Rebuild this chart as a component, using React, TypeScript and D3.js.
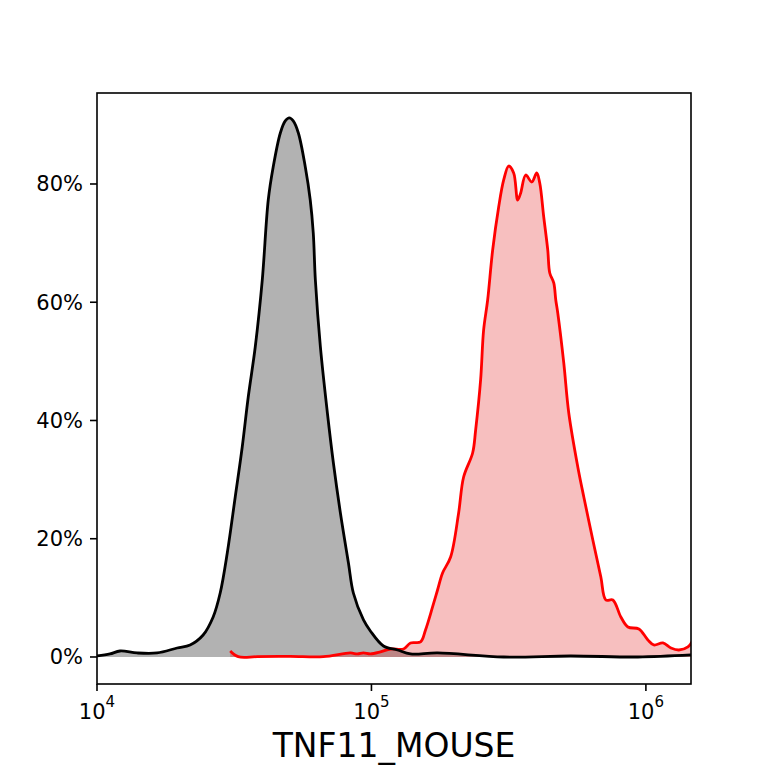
import * as d3 from 'd3';

// intensity values (x) and percent of max (y)
const controlX = [10000, 11150, 12130, 14000, 16560, 19590, 21840, 24360, 26500, 28110, 29830, 31890, 33820, 35570, 37720, 40010, 42070, 43850, 46560, 48530, 50200, 51880, 54160, 57410, 59840, 61380, 62470, 65160, 69100, 72670, 77070, 82450, 85920, 93540, 99100, 110600, 124400, 138800, 174100, 303400, 532300, 935000, 1459000];
const controlY = [0.17, 0.51, 1.01, 0.68, 0.68, 1.52, 2.03, 3.72, 6.77, 10.82, 17.59, 27.06, 35.52, 43.97, 52.43, 63.76, 77.29, 82.88, 88.63, 90.66, 91.17, 90.66, 88.63, 82.88, 77.29, 71.71, 63.76, 52.43, 41.27, 32.81, 24.36, 15.9, 10.82, 6.26, 4.4, 1.86, 1.18, 0.51, 0.68, 0.0, 0.17, 0.0, 0.34];

const sampleX = [30580, 32700, 38360, 50630, 66800, 83830, 88890, 93500, 99170, 107800, 117300, 130900, 138800, 151000, 157400, 167000, 174100, 181600, 194300, 207800, 216700, 233700, 239700, 249900, 256300, 265100, 276500, 290800, 303300, 316200, 329800, 341100, 349800, 364800, 383700, 400200, 410400, 424400, 438900, 446400, 461600, 469500, 477400, 502100, 523600, 564800, 594000, 640700, 685300, 714500, 757800, 810500, 860000, 943000, 1017000, 1069000, 1154000, 1234000, 1319000, 1423000, 1484000];
const sampleY = [1.01, 0.05, 0.05, 0.1, 0.05, 0.68, 0.51, 0.68, 0.51, 0.85, 1.35, 1.35, 2.37, 2.54, 4.57, 8.46, 11.33, 14.21, 16.91, 24.36, 30.44, 34.5, 38.39, 46.85, 55.31, 60.38, 68.84, 76.11, 80.68, 83.04, 81.86, 77.29, 78.48, 81.52, 80.34, 81.86, 80.17, 74.42, 68.84, 64.95, 63.26, 60.38, 58.18, 49.72, 41.27, 32.14, 27.06, 19.79, 13.53, 9.64, 9.64, 6.77, 5.07, 4.74, 2.88, 2.03, 2.37, 1.52, 1.18, 1.69, 2.88];

const yTicks = [0, 20, 40, 60, 80];
const xTicks = [4, 5, 6];
const xLabel = 'TNF11_MOUSE';

const W = 768;
const H = 768;
const margin = { top: 93, right: 77, bottom: 84, left: 97 };
const font = '"DejaVu Sans", sans-serif';

export default function App() {
  const x = d3.scaleLog()
    .domain([1e4, 1.46e6])
    .range([margin.left, W - margin.right]);
  const y = d3.scaleLinear()
    .domain([-4.57, 95.39])
    .range([H - margin.bottom, margin.top]);

  const control = controlX.map((v, i) => [v, controlY[i]] as [number, number]);
  const sample = sampleX.map((v, i) => [v, sampleY[i]] as [number, number]);

  const curve = d3.curveCatmullRom.alpha(0.5);
  const line = d3.line<[number, number]>()
    .x(d => x(d[0]))
    .y(d => y(d[1]))
    .curve(curve);
  const area = d3.area<[number, number]>()
    .x(d => x(d[0]))
    .y0(y(0))
    .y1(d => y(d[1]))
    .curve(curve);

  const [x0, x1] = x.range();
  const [yb, yt] = y.range();

  return (
    <svg width={W} height={H} style={{ position: 'absolute', left: 0, top: 0, background: '#fff' }}>
      <defs>
        <clipPath id="plot">
          <rect x={x0} y={yt} width={x1 - x0} height={yb - yt} />
        </clipPath>
      </defs>
      <g clipPath="url(#plot)">
        <path d={area(control) ?? ''} fill="#000" fillOpacity={0.3} />
        <path d={area(sample) ?? ''} fill="#e00000" fillOpacity={0.25} />
        <path d={line(sample) ?? ''} fill="none" stroke="#ff0000" strokeWidth={2.8} strokeLinejoin="round" />
        <path d={line(control) ?? ''} fill="none" stroke="#000" strokeWidth={2.8} strokeLinejoin="round" />
      </g>
      <rect x={x0} y={yt} width={x1 - x0} height={yb - yt} fill="none" stroke="#000" strokeWidth={1.6} />

      {yTicks.map(t => (
        <g key={t}>
          <line x1={x0 - 7} x2={x0} y1={y(t)} y2={y(t)} stroke="#000" strokeWidth={1.6} />
          <text x={x0 - 14} y={y(t) + 7.5} textAnchor="end" fontFamily={font} fontSize={21} fill="#000">
            {t}%
          </text>
        </g>
      ))}

      {xTicks.map(p => (
        <g key={p}>
          <line x1={x(10 ** p)} x2={x(10 ** p)} y1={yb} y2={yb + 7} stroke="#000" strokeWidth={1.6} />
          <text x={x(10 ** p)} y={719} textAnchor="middle" fontFamily={font} fontSize={21} fill="#000">
            <tspan>10</tspan>
            <tspan dy={-12} fontSize={15}>{p}</tspan>
          </text>
        </g>
      ))}

      <text x={(x0 + x1) / 2} y={757} textAnchor="middle" fontFamily={font} fontSize={33} fill="#000">
        {xLabel}
      </text>
    </svg>
  );
}
